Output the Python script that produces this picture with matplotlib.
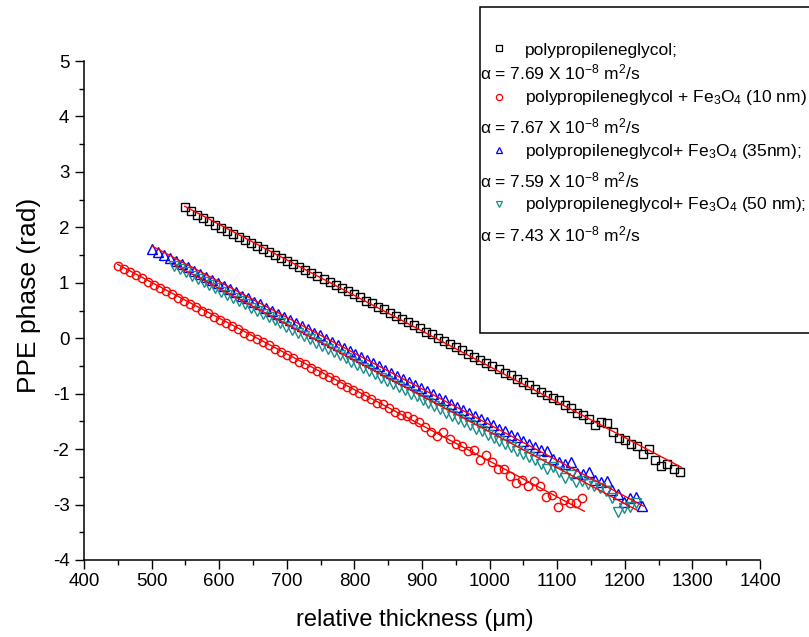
import numpy as np
import matplotlib.pyplot as plt
from matplotlib.lines import Line2D
from matplotlib.patches import Rectangle

plt.rcParams['font.family'] = ['Liberation Sans', 'DejaVu Sans']
plt.rcParams['mathtext.fontset'] = 'custom'
plt.rcParams['mathtext.rm'] = 'Liberation Sans'
plt.rcParams['mathtext.it'] = 'Liberation Sans:italic'
plt.rcParams['axes.unicode_minus'] = False

# measured PPE phase (rad) vs relative thickness (um), regular thickness grid
x_ppg = np.linspace(549, 1281, 83)
y_ppg = [2.37, 2.29, 2.23, 2.17, 2.11, 2.05, 1.99, 1.94, 1.88, 1.83,
         1.77, 1.72, 1.66, 1.61, 1.55, 1.50, 1.45, 1.39, 1.34, 1.28,
         1.23, 1.17, 1.12, 1.07, 1.01, 0.96, 0.90, 0.85, 0.79, 0.74,
         0.68, 0.63, 0.57, 0.52, 0.46, 0.40, 0.35, 0.29, 0.24, 0.18,
         0.12, 0.07, 0.01, -0.05, -0.10, -0.16, -0.22, -0.28, -0.33, -0.39,
         -0.45, -0.50, -0.56, -0.62, -0.67, -0.74, -0.79, -0.85, -0.91, -0.97,
         -1.03, -1.07, -1.11, -1.20, -1.26, -1.34, -1.39, -1.46, -1.56, -1.52,
         -1.53, -1.70, -1.80, -1.84, -1.90, -1.94, -2.08, -2.00, -2.20, -2.30,
         -2.26, -2.36, -2.41]

x_10nm = np.linspace(450, 1137, 78)
y_10nm = [1.31, 1.25, 1.20, 1.14, 1.08, 1.02, 0.96, 0.91, 0.85, 0.79,
          0.73, 0.68, 0.62, 0.56, 0.50, 0.45, 0.39, 0.33, 0.28, 0.22,
          0.16, 0.10, 0.04, -0.01, -0.07, -0.13, -0.19, -0.24, -0.30, -0.36,
          -0.42, -0.47, -0.53, -0.59, -0.65, -0.70, -0.76, -0.82, -0.88, -0.93,
          -0.99, -1.05, -1.10, -1.16, -1.19, -1.25, -1.33, -1.39, -1.40, -1.46,
          -1.52, -1.61, -1.69, -1.76, -1.70, -1.82, -1.91, -1.94, -2.03, -2.02,
          -2.20, -2.11, -2.23, -2.35, -2.36, -2.49, -2.61, -2.55, -2.67, -2.57,
          -2.67, -2.86, -2.83, -3.05, -2.91, -2.98, -2.97, -2.89]

x_35nm = np.linspace(501, 1226, 83)
y_35nm = [1.61, 1.55, 1.50, 1.44, 1.39, 1.33, 1.28, 1.22, 1.16, 1.11,
          1.05, 1.00, 0.94, 0.88, 0.83, 0.77, 0.72, 0.66, 0.61, 0.55,
          0.49, 0.44, 0.38, 0.33, 0.27, 0.22, 0.16, 0.10, 0.05, -0.01,
          -0.06, -0.12, -0.18, -0.23, -0.29, -0.34, -0.40, -0.45, -0.51, -0.57,
          -0.62, -0.68, -0.73, -0.79, -0.85, -0.90, -0.96, -1.01, -1.07, -1.12,
          -1.18, -1.24, -1.29, -1.35, -1.40, -1.46, -1.51, -1.57, -1.63, -1.68,
          -1.74, -1.79, -1.85, -1.91, -1.96, -2.02, -2.03, -2.18, -2.23, -2.26,
          -2.23, -2.43, -2.44, -2.41, -2.56, -2.59, -2.57, -2.74, -2.81, -2.95,
          -2.89, -2.87, -3.03]

x_50nm = np.linspace(533, 1216, 79)
y_50nm = [1.30, 1.24, 1.19, 1.13, 1.07, 1.01, 0.96, 0.90, 0.84, 0.78,
          0.73, 0.67, 0.61, 0.55, 0.50, 0.44, 0.38, 0.32, 0.27, 0.21,
          0.15, 0.09, 0.04, -0.02, -0.08, -0.14, -0.19, -0.25, -0.31, -0.36,
          -0.42, -0.48, -0.54, -0.59, -0.65, -0.71, -0.77, -0.82, -0.88, -0.94,
          -1.00, -1.05, -1.11, -1.17, -1.23, -1.28, -1.34, -1.40, -1.46, -1.51,
          -1.57, -1.63, -1.68, -1.74, -1.80, -1.86, -1.91, -1.97, -2.03, -2.09,
          -2.14, -2.20, -2.26, -2.35, -2.33, -2.42, -2.53, -2.47, -2.59, -2.57,
          -2.63, -2.67, -2.71, -2.75, -2.89, -3.13, -3.07, -3.04, -2.98]

# linear fits (end points)
fit_x = {'ppg': [549, 1284], '10': [450, 1140], '35': [501, 1228], '50': [533, 1218]}
fit_y = {'ppg': [2.38, -2.33], '10': [1.33, -3.12], '35': [1.66, -3.03], '50': [1.33, -3.10]}

labels = ['polypropileneglycol;',
          'polypropileneglycol + Fe$_3$O$_4$ (10 nm)',
          'polypropileneglycol+ Fe$_3$O$_4$ (35nm);',
          'polypropileneglycol+ Fe$_3$O$_4$ (50 nm);']
alphas = ['7.69', '7.67', '7.59', '7.43']

teal = '#1a8c8c'
styles = [dict(marker='s', mec='black', ms=5.4),
          dict(marker='o', mec='red', ms=6.0),
          dict(marker='^', mec='blue', ms=6.6),
          dict(marker='v', mec=teal, ms=6.6)]

fig = plt.figure(figsize=(8.09, 6.37), dpi=100)
ax = fig.add_axes([84/809, 1-560/637, 676/809, 499/637])

series = [(x_ppg, y_ppg), (x_10nm, y_10nm), (x_35nm, y_35nm), (x_50nm, y_50nm)]
for (xs, ys), st in zip(series, styles):
    ax.plot(xs, ys, ls='none', mfc='none', mew=1.0, **st)
for key in ['ppg', '10', '35', '50']:
    ax.plot(fit_x[key], fit_y[key], color='red', lw=1.0, zorder=3)

ax.set_xlim(400, 1400)
ax.set_ylim(-4, 5)
ax.set_xticks(np.arange(400, 1401, 100))
ax.set_xticks(np.arange(450, 1400, 100), minor=True)
ax.set_yticks(np.arange(-4, 6, 1))
ax.set_yticks(np.arange(-3.5, 5, 1), minor=True)
ax.spines['top'].set_visible(False)
ax.spines['right'].set_visible(False)
for s in ['left', 'bottom']:
    ax.spines[s].set_linewidth(1.1)
ax.tick_params(which='major', direction='out', length=6.5, width=1.0, labelsize=13.5)
ax.tick_params(which='minor', direction='out', length=3.5, width=1.0)
ax.tick_params(axis='x', pad=3)
ax.tick_params(axis='y', pad=4)
ax.set_xlabel('relative thickness (\u03bcm)', fontsize=17)
ax.set_ylabel('PPE phase (rad)', fontsize=19)
ax.xaxis.set_label_coords(0.49, -0.098)
ax.yaxis.set_label_coords(-0.064, 0.53)

# legend box (runs off the right edge as in the original)
fig.add_artist(Rectangle((480/809, 1-333/637), 340/809, 326/637,
                         transform=fig.transFigure, facecolor='white',
                         edgecolor='black', lw=1.1, clip_on=False, zorder=5))
mark_y = [48, 97, 150, 204]
lab_base = [55, 102, 156, 209]
alpha_base = [79, 133, 187, 241]
for i in range(4):
    st = dict(styles[i])
    st['ms'] = st['ms'] * 0.75
    fig.add_artist(Line2D([499/809], [1-mark_y[i]/637], transform=fig.transFigure,
                          ls='none', mfc='none', mew=0.9, zorder=6, **st))
    fig.text(525/809, 1-lab_base[i]/637, labels[i], fontsize=12.5,
             va='baseline', ha='left', zorder=6)
    fig.text(480/809, 1-alpha_base[i]/637,
             '\u03b1 = ' + alphas[i] + ' X 10$^{-8}$ m$^2$/s', fontsize=12.5,
             va='baseline', ha='left', zorder=6)

fig.savefig('out.png', dpi=100)
